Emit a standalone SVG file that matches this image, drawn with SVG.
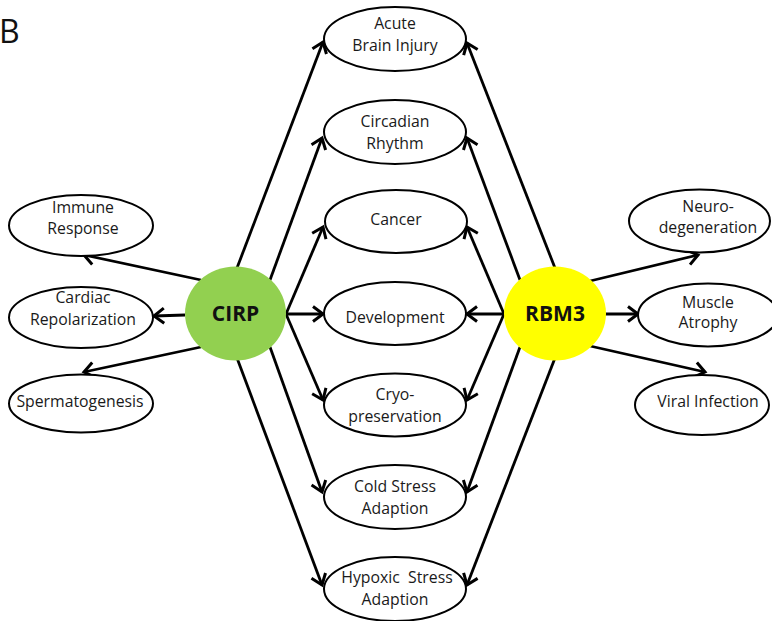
<svg xmlns="http://www.w3.org/2000/svg" width="772" height="621" viewBox="0 0 772 621">
<style>
.n{fill:#fff;stroke:#000;stroke-width:2}
.t{font-family:"Open Sans","Noto Sans","Liberation Sans",sans-serif;font-size:15.8px;fill:#1a1a1a;text-anchor:middle;white-space:pre}
.b{font-family:"Open Sans","Noto Sans","Liberation Sans",sans-serif;font-size:21px;font-weight:bold;fill:#111;text-anchor:middle}
.c line{stroke:#000;stroke-width:2.8;marker-end:url(#ah)}
</style>
<defs>
<marker id="ah" markerUnits="userSpaceOnUse" markerWidth="20" markerHeight="20" viewBox="-12 -10 14 20" refX="0" refY="0" orient="auto">
<path d="M-10,-7.5 L0,0 L-10,7.5" fill="none" stroke="#000" stroke-width="3" stroke-linejoin="miter"/>
</marker>
</defs>
<rect width="772" height="621" fill="#fff"/>
<text x="-1" y="43" style="font-family:'Open Sans','Noto Sans','Liberation Sans',sans-serif;font-size:32px;fill:#111">B</text>
<g class="c" id="connectors">
<line x1="237" y1="268" x2="323" y2="42"/>
<line x1="270" y1="280" x2="322" y2="138"/>
<line x1="286" y1="314" x2="323" y2="227"/>
<line x1="286" y1="314" x2="323" y2="314"/>
<line x1="286" y1="314" x2="323" y2="400"/>
<line x1="270" y1="347" x2="322" y2="492"/>
<line x1="237" y1="358" x2="322" y2="585"/>
<line x1="201" y1="280" x2="84" y2="255"/>
<line x1="185" y1="315" x2="154" y2="316"/>
<line x1="201" y1="347" x2="84" y2="372"/>
<line x1="555" y1="268" x2="467" y2="43"/>
<line x1="520" y1="280" x2="467" y2="138"/>
<line x1="504" y1="314" x2="467" y2="227"/>
<line x1="504" y1="314" x2="467" y2="314"/>
<line x1="504" y1="314" x2="467" y2="400"/>
<line x1="520" y1="347" x2="467" y2="492"/>
<line x1="555" y1="358" x2="467" y2="585"/>
<line x1="590" y1="281" x2="698" y2="255"/>
<line x1="605" y1="314" x2="638" y2="314"/>
<line x1="590" y1="346" x2="705" y2="372"/>
</g>
<g id="cirp"><ellipse cx="235.5" cy="313.5" rx="50.5" ry="47" fill="#92D050"/><text class="b" x="235.5" y="321">CIRP</text></g>
<g id="rbm3"><ellipse cx="555" cy="313.5" rx="51" ry="47" fill="#FFFF00"/><text class="b" x="555" y="321">RBM3</text></g>
<g id="acute"><ellipse class="n" cx="395" cy="39" rx="71" ry="32"/><text class="t" x="395" y="29">Acute</text><text class="t" x="395" y="51">Brain Injury</text></g>
<g id="circadian"><ellipse class="n" cx="395" cy="132" rx="71" ry="32"/><text class="t" x="395" y="127">Circadian</text><text class="t" x="395" y="149">Rhythm</text></g>
<g id="cancer"><ellipse class="n" cx="396" cy="221.5" rx="71" ry="31.5"/><text class="t" x="396" y="225">Cancer</text></g>
<g id="development"><ellipse class="n" cx="395" cy="313.5" rx="71" ry="31.5"/><text class="t" x="395" y="323">Development</text></g>
<g id="cryo"><ellipse class="n" cx="395" cy="405" rx="71" ry="31.5"/><text class="t" x="395" y="400">Cryo-</text><text class="t" x="395" y="422">preservation</text></g>
<g id="cold"><ellipse class="n" cx="395" cy="497" rx="71" ry="32"/><text class="t" x="395" y="492">Cold Stress</text><text class="t" x="395" y="514">Adaption</text></g>
<g id="hypoxic"><ellipse class="n" cx="395" cy="589" rx="71" ry="32"/><text class="t" x="397" y="583">Hypoxic  Stress</text><text class="t" x="395" y="605">Adaption</text></g>
<g id="immune"><ellipse class="n" cx="81" cy="225.5" rx="72" ry="30.5"/><text class="t" x="83" y="213">Immune</text><text class="t" x="83" y="234">Response</text></g>
<g id="cardiac"><ellipse class="n" cx="81" cy="317.5" rx="72" ry="30.5"/><text class="t" x="83" y="303">Cardiac</text><text class="t" x="83" y="325">Repolarization</text></g>
<g id="sperm"><ellipse class="n" cx="81" cy="403.5" rx="72" ry="29"/><text class="t" x="80" y="407">Spermatogenesis</text></g>
<g id="neuro"><ellipse class="n" cx="699.5" cy="221" rx="70.5" ry="31.5"/><text class="t" x="708" y="212">Neuro-</text><text class="t" x="708" y="233">degeneration</text></g>
<g id="muscle"><ellipse class="n" cx="708" cy="315" rx="70" ry="31.5"/><text class="t" x="708" y="308">Muscle</text><text class="t" x="708" y="328">Atrophy</text></g>
<g id="viral"><ellipse class="n" cx="702" cy="405" rx="67" ry="30"/><text class="t" x="708" y="407">Viral Infection</text></g>
</svg>
